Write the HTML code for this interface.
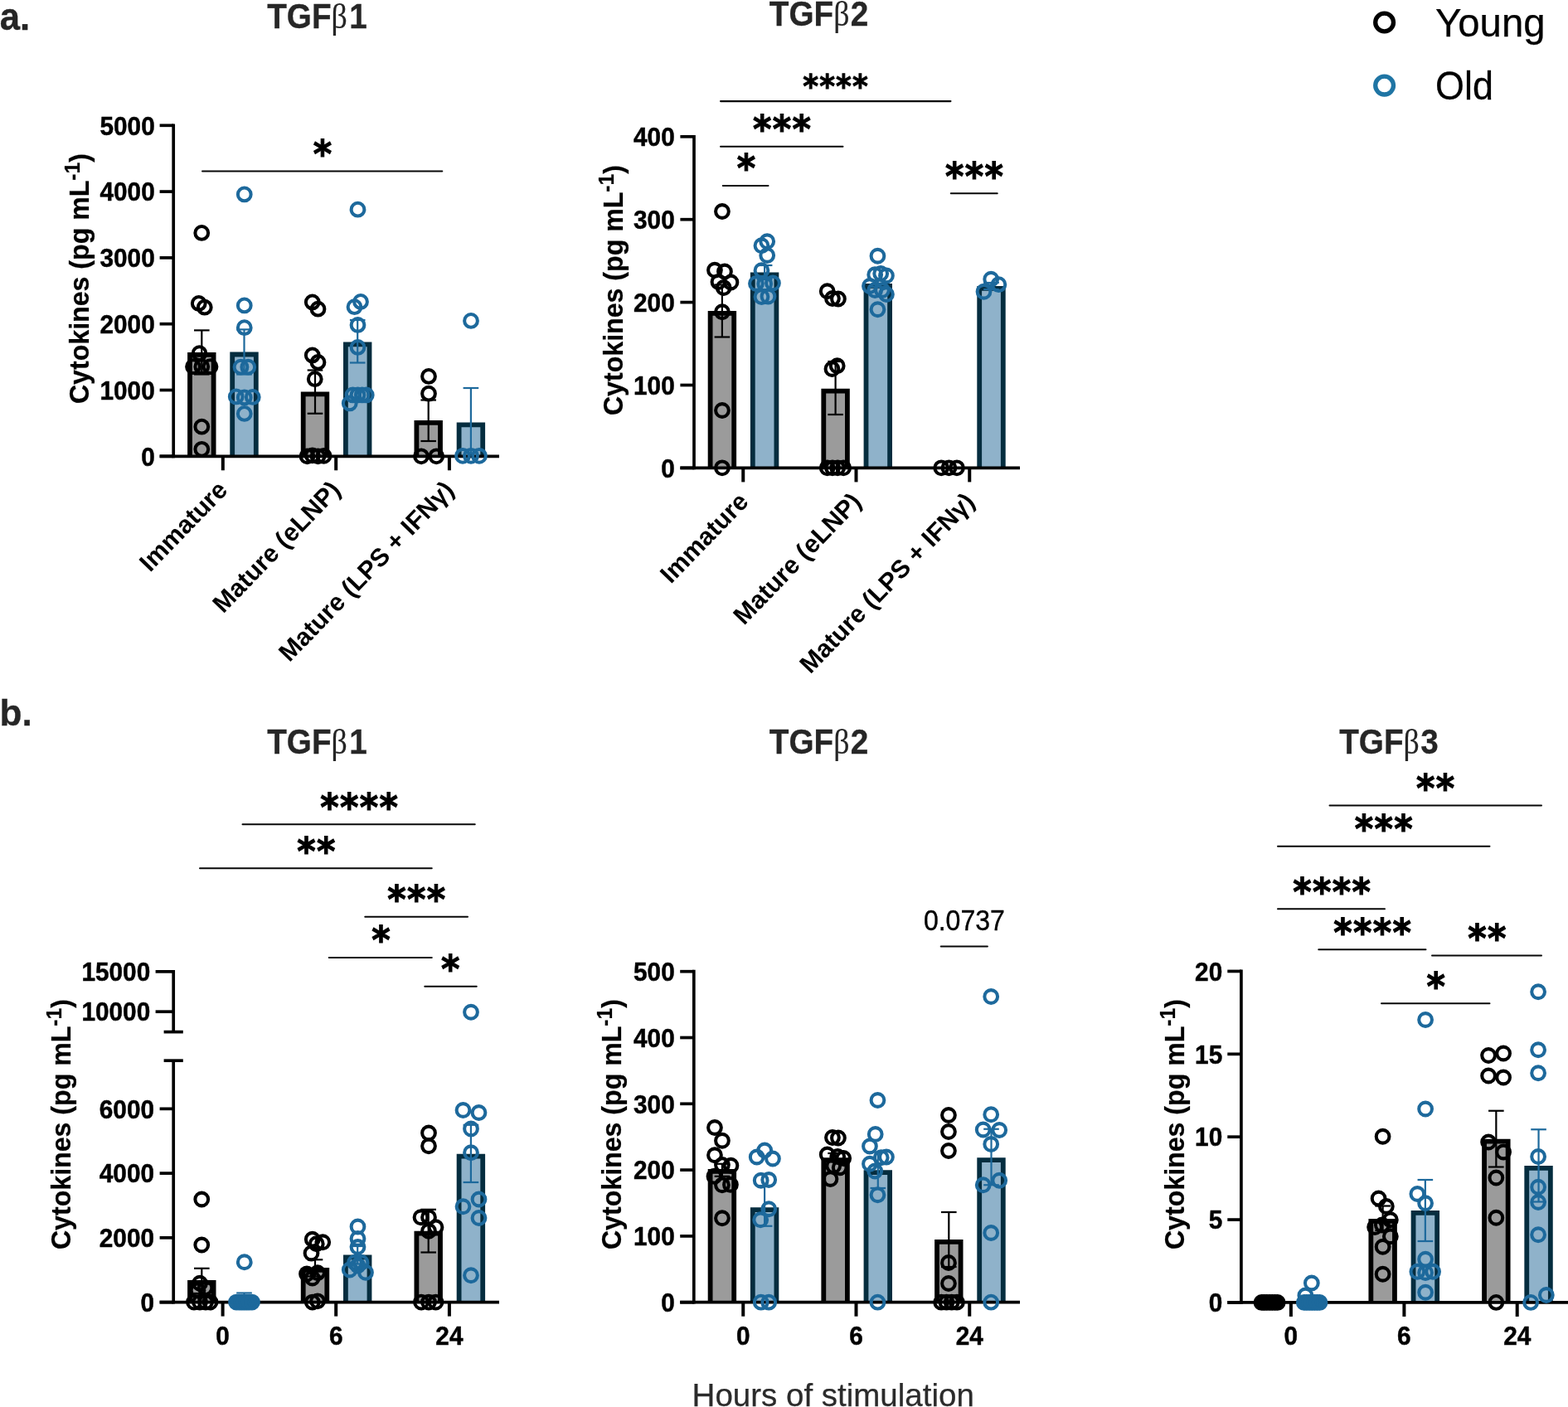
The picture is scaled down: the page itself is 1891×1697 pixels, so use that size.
<!DOCTYPE html>
<html lang="en"><head><meta charset="utf-8"><title>TGF-beta cytokines: Young vs Old</title>
<style>html,body{margin:0;padding:0;background:#fff}body{width:1891px;height:1697px;overflow:hidden}svg{display:block;font-family:"Liberation Sans",Arial,Helvetica,sans-serif;font-kerning:none}</style>
</head><body>
<svg width="1891" height="1697" viewBox="0 0 1891 1697">
<rect width="1891" height="1697" fill="#ffffff"/>
<text transform="translate(-0.30,35.60) scale(0.9480,1)" font-size="46.1" text-anchor="start" font-weight="bold" fill="#262626" stroke="#262626" stroke-width="0.3">a.</text>
<text transform="translate(-0.60,875.30) scale(0.9800,1)" font-size="45.1" text-anchor="start" font-weight="bold" fill="#262626" stroke="#262626" stroke-width="0.3">b.</text>
<circle cx="1669.6" cy="27.0" r="10.9" fill="none" stroke="#000000" stroke-width="5.3"/>
<circle cx="1669.6" cy="103.1" r="10.9" fill="none" stroke="#1f75a4" stroke-width="5.3"/>
<text transform="translate(1731.10,43.80)" font-size="47.3" text-anchor="start" font-weight="normal" fill="#000000" style="font-kerning:normal" stroke="#000000" stroke-width="0.25">Young</text>
<text transform="translate(1731.10,120.30) scale(0.9500,1)" font-size="47.3" text-anchor="start" font-weight="normal" fill="#000000" stroke="#000000" stroke-width="0.25">Old</text>
<g id="a1">
<path d="M229.00 550.30V427.90H257.60V550.30" fill="#9b9b9b" stroke="#000000" stroke-width="5.8" stroke-linejoin="miter"/>
<path d="M280.20 550.30V427.50H308.80V550.30" fill="#8fb2ca" stroke="#052d3f" stroke-width="5.8" stroke-linejoin="miter"/>
<path d="M365.70 550.30V475.40H394.30V550.30" fill="#9b9b9b" stroke="#000000" stroke-width="5.8" stroke-linejoin="miter"/>
<path d="M416.90 550.30V415.40H445.50V550.30" fill="#8fb2ca" stroke="#052d3f" stroke-width="5.8" stroke-linejoin="miter"/>
<path d="M502.40 550.30V509.90H531.00V550.30" fill="#9b9b9b" stroke="#000000" stroke-width="5.8" stroke-linejoin="miter"/>
<path d="M553.60 550.30V512.40H582.20V550.30" fill="#8fb2ca" stroke="#052d3f" stroke-width="5.8" stroke-linejoin="miter"/>
<line x1="243.30" y1="398.40" x2="243.30" y2="451.50" stroke="#000000" stroke-width="2.2" stroke-linecap="butt"/>
<line x1="234.00" y1="398.40" x2="252.60" y2="398.40" stroke="#000000" stroke-width="2.2" stroke-linecap="butt"/>
<line x1="234.00" y1="451.50" x2="252.60" y2="451.50" stroke="#000000" stroke-width="2.2" stroke-linecap="butt"/>
<line x1="294.50" y1="397.40" x2="294.50" y2="451.50" stroke="#1d699c" stroke-width="2.2" stroke-linecap="butt"/>
<line x1="285.20" y1="397.40" x2="303.80" y2="397.40" stroke="#1d699c" stroke-width="2.2" stroke-linecap="butt"/>
<line x1="285.20" y1="451.50" x2="303.80" y2="451.50" stroke="#1d699c" stroke-width="2.2" stroke-linecap="butt"/>
<line x1="380.00" y1="446.50" x2="380.00" y2="498.75" stroke="#000000" stroke-width="2.2" stroke-linecap="butt"/>
<line x1="370.70" y1="446.50" x2="389.30" y2="446.50" stroke="#000000" stroke-width="2.2" stroke-linecap="butt"/>
<line x1="370.70" y1="498.75" x2="389.30" y2="498.75" stroke="#000000" stroke-width="2.2" stroke-linecap="butt"/>
<line x1="431.20" y1="386.00" x2="431.20" y2="437.50" stroke="#1d699c" stroke-width="2.2" stroke-linecap="butt"/>
<line x1="421.90" y1="386.00" x2="440.50" y2="386.00" stroke="#1d699c" stroke-width="2.2" stroke-linecap="butt"/>
<line x1="421.90" y1="437.50" x2="440.50" y2="437.50" stroke="#1d699c" stroke-width="2.2" stroke-linecap="butt"/>
<line x1="516.70" y1="482.50" x2="516.70" y2="532.00" stroke="#000000" stroke-width="2.2" stroke-linecap="butt"/>
<line x1="507.40" y1="482.50" x2="526.00" y2="482.50" stroke="#000000" stroke-width="2.2" stroke-linecap="butt"/>
<line x1="507.40" y1="532.00" x2="526.00" y2="532.00" stroke="#000000" stroke-width="2.2" stroke-linecap="butt"/>
<line x1="567.90" y1="468.00" x2="567.90" y2="551.00" stroke="#1d699c" stroke-width="2.2" stroke-linecap="butt"/>
<line x1="558.60" y1="468.00" x2="577.20" y2="468.00" stroke="#1d699c" stroke-width="2.2" stroke-linecap="butt"/>
<line x1="558.60" y1="551.00" x2="577.20" y2="551.00" stroke="#1d699c" stroke-width="2.2" stroke-linecap="butt"/>
<line x1="209.20" y1="149.45" x2="209.20" y2="552.15" stroke="#000000" stroke-width="3.7" stroke-linecap="butt"/>
<line x1="192.60" y1="550.30" x2="209.20" y2="550.30" stroke="#000000" stroke-width="3.7" stroke-linecap="butt"/>
<text transform="translate(186.70,561.50) scale(0.9280,1)" font-size="32.1" text-anchor="end" font-weight="bold" fill="#000000" stroke="#000000" stroke-width="0.5">0</text>
<line x1="192.60" y1="470.50" x2="209.20" y2="470.50" stroke="#000000" stroke-width="3.7" stroke-linecap="butt"/>
<text transform="translate(186.70,481.70) scale(0.9280,1)" font-size="32.1" text-anchor="end" font-weight="bold" fill="#000000" stroke="#000000" stroke-width="0.5">1000</text>
<line x1="192.60" y1="390.70" x2="209.20" y2="390.70" stroke="#000000" stroke-width="3.7" stroke-linecap="butt"/>
<text transform="translate(186.70,401.90) scale(0.9280,1)" font-size="32.1" text-anchor="end" font-weight="bold" fill="#000000" stroke="#000000" stroke-width="0.5">2000</text>
<line x1="192.60" y1="310.90" x2="209.20" y2="310.90" stroke="#000000" stroke-width="3.7" stroke-linecap="butt"/>
<text transform="translate(186.70,322.10) scale(0.9280,1)" font-size="32.1" text-anchor="end" font-weight="bold" fill="#000000" stroke="#000000" stroke-width="0.5">3000</text>
<line x1="192.60" y1="231.10" x2="209.20" y2="231.10" stroke="#000000" stroke-width="3.7" stroke-linecap="butt"/>
<text transform="translate(186.70,242.30) scale(0.9280,1)" font-size="32.1" text-anchor="end" font-weight="bold" fill="#000000" stroke="#000000" stroke-width="0.5">4000</text>
<line x1="192.60" y1="151.30" x2="209.20" y2="151.30" stroke="#000000" stroke-width="3.7" stroke-linecap="butt"/>
<text transform="translate(186.70,162.50) scale(0.9280,1)" font-size="32.1" text-anchor="end" font-weight="bold" fill="#000000" stroke="#000000" stroke-width="0.5">5000</text>
<line x1="192.60" y1="550.30" x2="602.00" y2="550.30" stroke="#000000" stroke-width="3.7" stroke-linecap="butt"/>
<line x1="268.80" y1="550.30" x2="268.80" y2="567.30" stroke="#000000" stroke-width="4.0" stroke-linecap="butt"/>
<line x1="405.20" y1="550.30" x2="405.20" y2="567.30" stroke="#000000" stroke-width="4.0" stroke-linecap="butt"/>
<line x1="541.90" y1="550.30" x2="541.90" y2="567.30" stroke="#000000" stroke-width="4.0" stroke-linecap="butt"/>
<g fill="none" stroke="#000000" stroke-width="4.05">
<circle cx="243.25" cy="280.95" r="7.87"/>
<circle cx="239.75" cy="365.95" r="7.87"/>
<circle cx="246.75" cy="370.70" r="7.87"/>
<circle cx="240.50" cy="426.20" r="7.87"/>
<circle cx="233.00" cy="442.20" r="7.87"/>
<circle cx="243.25" cy="442.20" r="7.87"/>
<circle cx="253.50" cy="442.20" r="7.87"/>
<circle cx="243.30" cy="514.70" r="7.87"/>
<circle cx="243.30" cy="541.80" r="7.87"/>
</g>
<g fill="none" stroke="#1d699c" stroke-width="4.05">
<circle cx="294.75" cy="234.45" r="7.87"/>
<circle cx="294.75" cy="368.45" r="7.87"/>
<circle cx="294.75" cy="395.20" r="7.87"/>
<circle cx="290.50" cy="442.70" r="7.87"/>
<circle cx="299.25" cy="442.70" r="7.87"/>
<circle cx="284.75" cy="478.45" r="7.87"/>
<circle cx="294.75" cy="479.45" r="7.87"/>
<circle cx="304.75" cy="478.95" r="7.87"/>
<circle cx="294.75" cy="498.95" r="7.87"/>
</g>
<g fill="none" stroke="#000000" stroke-width="4.05">
<circle cx="376.75" cy="364.45" r="7.87"/>
<circle cx="383.50" cy="372.70" r="7.87"/>
<circle cx="376.75" cy="428.45" r="7.87"/>
<circle cx="383.50" cy="436.95" r="7.87"/>
<circle cx="379.75" cy="457.20" r="7.87"/>
<circle cx="370.50" cy="550.30" r="7.87"/>
<circle cx="376.75" cy="549.30" r="7.87"/>
<circle cx="383.50" cy="550.30" r="7.87"/>
<circle cx="390.50" cy="549.80" r="7.87"/>
</g>
<g fill="none" stroke="#1d699c" stroke-width="4.05">
<circle cx="431.50" cy="252.70" r="7.87"/>
<circle cx="435.00" cy="363.95" r="7.87"/>
<circle cx="427.50" cy="370.20" r="7.87"/>
<circle cx="431.50" cy="391.95" r="7.87"/>
<circle cx="431.50" cy="418.95" r="7.87"/>
<circle cx="425.50" cy="476.45" r="7.87"/>
<circle cx="431.50" cy="476.45" r="7.87"/>
<circle cx="436.75" cy="476.45" r="7.87"/>
<circle cx="441.75" cy="476.45" r="7.87"/>
<circle cx="421.75" cy="486.45" r="7.87"/>
</g>
<g fill="none" stroke="#000000" stroke-width="4.05">
<circle cx="517.00" cy="453.95" r="7.87"/>
<circle cx="517.00" cy="474.70" r="7.87"/>
<circle cx="508.00" cy="550.30" r="7.87"/>
<circle cx="526.25" cy="550.30" r="7.87"/>
</g>
<g fill="none" stroke="#1d699c" stroke-width="4.05">
<circle cx="568.00" cy="386.95" r="7.87"/>
<circle cx="558.00" cy="549.80" r="7.87"/>
<circle cx="568.00" cy="549.80" r="7.87"/>
<circle cx="578.00" cy="549.80" r="7.87"/>
</g>
</g>
<text transform="translate(322.20,33.90) scale(0.9025,1)" font-size="42.9" text-anchor="start" font-weight="bold" fill="#262626" stroke="#262626" stroke-width="0.3">TGF<tspan font-family="'Liberation Serif',serif" font-weight="normal" font-size="42" stroke-width="0.15">β</tspan><tspan dx="2.7">1</tspan></text>
<text transform="translate(106.90,336.00) rotate(-90) scale(0.9450,1)" font-size="34" text-anchor="middle" font-weight="bold" fill="#000000" stroke="#000000" stroke-width="0.25">Cytokines (pg mL<tspan font-size="26.2" dy="-10.9">-1</tspan><tspan dy="10.9">)</tspan></text>
<line x1="244.03" y1="206.50" x2="533.27" y2="206.50" stroke="#080808" stroke-width="2.05" stroke-linecap="round"/>
<text transform="translate(389.70,201.90) scale(0.9300,1)" font-size="46.1" text-anchor="middle" font-weight="bold" fill="#000000" font-family="'DejaVu Sans',sans-serif" stroke="#000" stroke-width="1.10" stroke-linejoin="miter" letter-spacing="1.45">*</text>
<text transform="translate(276.00,592.50) rotate(-46)" font-size="30.4" text-anchor="end" font-weight="bold" fill="#000000">Immature</text>
<text transform="translate(412.40,592.50) rotate(-46)" font-size="30.4" text-anchor="end" font-weight="bold" fill="#000000">Mature (eLNP)</text>
<text transform="translate(549.10,592.50) rotate(-46)" font-size="30.4" text-anchor="end" font-weight="bold" fill="#000000">Mature (LPS + IFNγ)</text>
<g id="a2">
<path d="M856.60 564.40V377.90H885.20V564.40" fill="#9b9b9b" stroke="#000000" stroke-width="5.8" stroke-linejoin="miter"/>
<path d="M907.80 564.40V331.40H936.40V564.40" fill="#8fb2ca" stroke="#052d3f" stroke-width="5.8" stroke-linejoin="miter"/>
<path d="M993.30 564.40V471.65H1021.90V564.40" fill="#9b9b9b" stroke="#000000" stroke-width="5.8" stroke-linejoin="miter"/>
<path d="M1044.50 564.40V344.90H1073.10V564.40" fill="#8fb2ca" stroke="#052d3f" stroke-width="5.8" stroke-linejoin="miter"/>
<path d="M1181.20 564.40V347.90H1209.80V564.40" fill="#8fb2ca" stroke="#052d3f" stroke-width="5.8" stroke-linejoin="miter"/>
<line x1="870.90" y1="343.50" x2="870.90" y2="406.50" stroke="#000000" stroke-width="2.2" stroke-linecap="butt"/>
<line x1="861.60" y1="343.50" x2="880.20" y2="343.50" stroke="#000000" stroke-width="2.2" stroke-linecap="butt"/>
<line x1="861.60" y1="406.50" x2="880.20" y2="406.50" stroke="#000000" stroke-width="2.2" stroke-linecap="butt"/>
<line x1="922.10" y1="320.00" x2="922.10" y2="337.00" stroke="#1d699c" stroke-width="2.2" stroke-linecap="butt"/>
<line x1="912.80" y1="320.00" x2="931.40" y2="320.00" stroke="#1d699c" stroke-width="2.2" stroke-linecap="butt"/>
<line x1="912.80" y1="337.00" x2="931.40" y2="337.00" stroke="#1d699c" stroke-width="2.2" stroke-linecap="butt"/>
<line x1="1007.60" y1="436.00" x2="1007.60" y2="500.00" stroke="#000000" stroke-width="2.2" stroke-linecap="butt"/>
<line x1="998.30" y1="436.00" x2="1016.90" y2="436.00" stroke="#000000" stroke-width="2.2" stroke-linecap="butt"/>
<line x1="998.30" y1="500.00" x2="1016.90" y2="500.00" stroke="#000000" stroke-width="2.2" stroke-linecap="butt"/>
<line x1="1058.80" y1="338.00" x2="1058.80" y2="346.00" stroke="#1d699c" stroke-width="2.2" stroke-linecap="butt"/>
<line x1="1049.50" y1="338.00" x2="1068.10" y2="338.00" stroke="#1d699c" stroke-width="2.2" stroke-linecap="butt"/>
<line x1="1049.50" y1="346.00" x2="1068.10" y2="346.00" stroke="#1d699c" stroke-width="2.2" stroke-linecap="butt"/>
<line x1="1195.50" y1="341.00" x2="1195.50" y2="349.00" stroke="#1d699c" stroke-width="2.2" stroke-linecap="butt"/>
<line x1="1186.20" y1="341.00" x2="1204.80" y2="341.00" stroke="#1d699c" stroke-width="2.2" stroke-linecap="butt"/>
<line x1="1186.20" y1="349.00" x2="1204.80" y2="349.00" stroke="#1d699c" stroke-width="2.2" stroke-linecap="butt"/>
<line x1="837.00" y1="162.95" x2="837.00" y2="566.25" stroke="#000000" stroke-width="3.7" stroke-linecap="butt"/>
<line x1="820.40" y1="564.40" x2="837.00" y2="564.40" stroke="#000000" stroke-width="3.7" stroke-linecap="butt"/>
<text transform="translate(813.70,575.60) scale(0.9280,1)" font-size="32.1" text-anchor="end" font-weight="bold" fill="#000000" stroke="#000000" stroke-width="0.5">0</text>
<line x1="820.40" y1="464.50" x2="837.00" y2="464.50" stroke="#000000" stroke-width="3.7" stroke-linecap="butt"/>
<text transform="translate(813.70,475.70) scale(0.9280,1)" font-size="32.1" text-anchor="end" font-weight="bold" fill="#000000" stroke="#000000" stroke-width="0.5">100</text>
<line x1="820.40" y1="364.60" x2="837.00" y2="364.60" stroke="#000000" stroke-width="3.7" stroke-linecap="butt"/>
<text transform="translate(813.70,375.80) scale(0.9280,1)" font-size="32.1" text-anchor="end" font-weight="bold" fill="#000000" stroke="#000000" stroke-width="0.5">200</text>
<line x1="820.40" y1="264.70" x2="837.00" y2="264.70" stroke="#000000" stroke-width="3.7" stroke-linecap="butt"/>
<text transform="translate(813.70,275.90) scale(0.9280,1)" font-size="32.1" text-anchor="end" font-weight="bold" fill="#000000" stroke="#000000" stroke-width="0.5">300</text>
<line x1="820.40" y1="164.80" x2="837.00" y2="164.80" stroke="#000000" stroke-width="3.7" stroke-linecap="butt"/>
<text transform="translate(813.70,176.00) scale(0.9280,1)" font-size="32.1" text-anchor="end" font-weight="bold" fill="#000000" stroke="#000000" stroke-width="0.5">400</text>
<line x1="820.40" y1="564.40" x2="1230.00" y2="564.40" stroke="#000000" stroke-width="3.7" stroke-linecap="butt"/>
<line x1="896.25" y1="564.40" x2="896.25" y2="581.40" stroke="#000000" stroke-width="4.0" stroke-linecap="butt"/>
<line x1="1032.50" y1="564.40" x2="1032.50" y2="581.40" stroke="#000000" stroke-width="4.0" stroke-linecap="butt"/>
<line x1="1169.25" y1="564.40" x2="1169.25" y2="581.40" stroke="#000000" stroke-width="4.0" stroke-linecap="butt"/>
<g fill="none" stroke="#000000" stroke-width="4.05">
<circle cx="870.95" cy="255.00" r="7.87"/>
<circle cx="861.95" cy="325.75" r="7.87"/>
<circle cx="873.95" cy="327.50" r="7.87"/>
<circle cx="866.45" cy="340.00" r="7.87"/>
<circle cx="881.45" cy="340.50" r="7.87"/>
<circle cx="872.70" cy="347.00" r="7.87"/>
<circle cx="870.95" cy="376.25" r="7.87"/>
<circle cx="870.95" cy="495.00" r="7.87"/>
<circle cx="870.95" cy="564.30" r="7.87"/>
</g>
<g fill="none" stroke="#1d699c" stroke-width="4.05">
<circle cx="925.20" cy="291.25" r="7.87"/>
<circle cx="918.45" cy="296.25" r="7.87"/>
<circle cx="925.20" cy="308.00" r="7.87"/>
<circle cx="918.45" cy="326.25" r="7.87"/>
<circle cx="911.95" cy="342.00" r="7.87"/>
<circle cx="931.95" cy="341.50" r="7.87"/>
<circle cx="922.20" cy="342.50" r="7.87"/>
<circle cx="918.45" cy="358.00" r="7.87"/>
<circle cx="926.45" cy="357.50" r="7.87"/>
</g>
<g fill="none" stroke="#000000" stroke-width="4.05">
<circle cx="997.70" cy="351.25" r="7.87"/>
<circle cx="1003.95" cy="360.00" r="7.87"/>
<circle cx="1010.95" cy="360.50" r="7.87"/>
<circle cx="1009.70" cy="441.25" r="7.87"/>
<circle cx="1003.45" cy="445.00" r="7.87"/>
<circle cx="997.70" cy="564.30" r="7.87"/>
<circle cx="1003.95" cy="564.30" r="7.87"/>
<circle cx="1010.20" cy="564.30" r="7.87"/>
<circle cx="1017.20" cy="564.30" r="7.87"/>
</g>
<g fill="none" stroke="#1d699c" stroke-width="4.05">
<circle cx="1058.45" cy="308.75" r="7.87"/>
<circle cx="1055.20" cy="331.25" r="7.87"/>
<circle cx="1062.20" cy="330.00" r="7.87"/>
<circle cx="1068.95" cy="332.50" r="7.87"/>
<circle cx="1048.95" cy="345.00" r="7.87"/>
<circle cx="1055.20" cy="350.00" r="7.87"/>
<circle cx="1063.95" cy="350.00" r="7.87"/>
<circle cx="1068.95" cy="355.00" r="7.87"/>
<circle cx="1058.45" cy="373.25" r="7.87"/>
</g>
<g fill="none" stroke="#000000" stroke-width="4.05">
<circle cx="1135.20" cy="564.30" r="7.87"/>
<circle cx="1144.45" cy="564.30" r="7.87"/>
<circle cx="1153.95" cy="564.30" r="7.87"/>
</g>
<g fill="none" stroke="#1d699c" stroke-width="4.05">
<circle cx="1195.20" cy="336.75" r="7.87"/>
<circle cx="1204.40" cy="343.20" r="7.87"/>
<circle cx="1186.50" cy="351.75" r="7.87"/>
</g>
</g>
<text transform="translate(927.80,31.40) scale(0.9025,1)" font-size="42.9" text-anchor="start" font-weight="bold" fill="#262626" stroke="#262626" stroke-width="0.3">TGF<tspan font-family="'Liberation Serif',serif" font-weight="normal" font-size="42" stroke-width="0.15">β</tspan><tspan dx="1.5">2</tspan></text>
<text transform="translate(750.50,350.00) rotate(-90) scale(0.9450,1)" font-size="34" text-anchor="middle" font-weight="bold" fill="#000000" stroke="#000000" stroke-width="0.25">Cytokines (pg mL<tspan font-size="26.2" dy="-10.9">-1</tspan><tspan dy="10.9">)</tspan></text>
<line x1="869.02" y1="122.10" x2="1146.47" y2="122.10" stroke="#080808" stroke-width="2.05" stroke-linecap="round"/>
<text transform="translate(1008.09,118.19) scale(0.9300,1)" font-size="38.7" text-anchor="middle" font-weight="bold" fill="#000000" font-family="'DejaVu Sans',sans-serif" stroke="#000" stroke-width="0.92" stroke-linejoin="miter" letter-spacing="1.22">****</text>
<line x1="869.02" y1="176.80" x2="1016.48" y2="176.80" stroke="#080808" stroke-width="2.05" stroke-linecap="round"/>
<text transform="translate(943.70,172.20) scale(0.9300,1)" font-size="46.1" text-anchor="middle" font-weight="bold" fill="#000000" font-family="'DejaVu Sans',sans-serif" stroke="#000" stroke-width="1.10" stroke-linejoin="miter" letter-spacing="1.45">***</text>
<line x1="871.77" y1="224.05" x2="926.48" y2="224.05" stroke="#080808" stroke-width="2.05" stroke-linecap="round"/>
<text transform="translate(900.70,218.90) scale(0.9300,1)" font-size="46.1" text-anchor="middle" font-weight="bold" fill="#000000" font-family="'DejaVu Sans',sans-serif" stroke="#000" stroke-width="1.10" stroke-linejoin="miter" letter-spacing="1.45">*</text>
<line x1="1146.78" y1="233.30" x2="1202.72" y2="233.30" stroke="#080808" stroke-width="2.05" stroke-linecap="round"/>
<text transform="translate(1175.70,228.70) scale(0.9300,1)" font-size="46.1" text-anchor="middle" font-weight="bold" fill="#000000" font-family="'DejaVu Sans',sans-serif" stroke="#000" stroke-width="1.10" stroke-linejoin="miter" letter-spacing="1.45">***</text>
<text transform="translate(904.15,606.70) rotate(-46)" font-size="30.4" text-anchor="end" font-weight="bold" fill="#000000">Immature</text>
<text transform="translate(1040.40,606.70) rotate(-46)" font-size="30.4" text-anchor="end" font-weight="bold" fill="#000000">Mature (eLNP)</text>
<text transform="translate(1177.15,606.70) rotate(-46)" font-size="30.4" text-anchor="end" font-weight="bold" fill="#000000">Mature (LPS + IFNγ)</text>
<g id="b1">
<path d="M229.00 1570.60V1546.90H257.60V1570.60" fill="#9b9b9b" stroke="#000000" stroke-width="5.8" stroke-linejoin="miter"/>
<path d="M365.70 1570.60V1531.90H394.30V1570.60" fill="#9b9b9b" stroke="#000000" stroke-width="5.8" stroke-linejoin="miter"/>
<path d="M416.90 1570.60V1516.40H445.50V1570.60" fill="#8fb2ca" stroke="#052d3f" stroke-width="5.8" stroke-linejoin="miter"/>
<path d="M502.40 1570.60V1487.70H531.00V1570.60" fill="#9b9b9b" stroke="#000000" stroke-width="5.8" stroke-linejoin="miter"/>
<path d="M553.60 1570.60V1394.70H582.20V1570.60" fill="#8fb2ca" stroke="#052d3f" stroke-width="5.8" stroke-linejoin="miter"/>
<line x1="243.30" y1="1529.80" x2="243.30" y2="1560.00" stroke="#000000" stroke-width="2.2" stroke-linecap="butt"/>
<line x1="234.00" y1="1529.80" x2="252.60" y2="1529.80" stroke="#000000" stroke-width="2.2" stroke-linecap="butt"/>
<line x1="234.00" y1="1560.00" x2="252.60" y2="1560.00" stroke="#000000" stroke-width="2.2" stroke-linecap="butt"/>
<line x1="294.50" y1="1559.50" x2="294.50" y2="1570.50" stroke="#1d699c" stroke-width="2.2" stroke-linecap="butt"/>
<line x1="285.20" y1="1559.50" x2="303.80" y2="1559.50" stroke="#1d699c" stroke-width="2.2" stroke-linecap="butt"/>
<line x1="285.20" y1="1570.50" x2="303.80" y2="1570.50" stroke="#1d699c" stroke-width="2.2" stroke-linecap="butt"/>
<line x1="380.00" y1="1519.30" x2="380.00" y2="1539.50" stroke="#000000" stroke-width="2.2" stroke-linecap="butt"/>
<line x1="370.70" y1="1519.30" x2="389.30" y2="1519.30" stroke="#000000" stroke-width="2.2" stroke-linecap="butt"/>
<line x1="370.70" y1="1539.50" x2="389.30" y2="1539.50" stroke="#000000" stroke-width="2.2" stroke-linecap="butt"/>
<line x1="431.20" y1="1503.00" x2="431.20" y2="1524.50" stroke="#1d699c" stroke-width="2.2" stroke-linecap="butt"/>
<line x1="421.90" y1="1503.00" x2="440.50" y2="1503.00" stroke="#1d699c" stroke-width="2.2" stroke-linecap="butt"/>
<line x1="421.90" y1="1524.50" x2="440.50" y2="1524.50" stroke="#1d699c" stroke-width="2.2" stroke-linecap="butt"/>
<line x1="516.70" y1="1458.80" x2="516.70" y2="1510.50" stroke="#000000" stroke-width="2.2" stroke-linecap="butt"/>
<line x1="507.40" y1="1458.80" x2="526.00" y2="1458.80" stroke="#000000" stroke-width="2.2" stroke-linecap="butt"/>
<line x1="507.40" y1="1510.50" x2="526.00" y2="1510.50" stroke="#000000" stroke-width="2.2" stroke-linecap="butt"/>
<line x1="567.90" y1="1356.80" x2="567.90" y2="1426.00" stroke="#1d699c" stroke-width="2.2" stroke-linecap="butt"/>
<line x1="558.60" y1="1356.80" x2="577.20" y2="1356.80" stroke="#1d699c" stroke-width="2.2" stroke-linecap="butt"/>
<line x1="558.60" y1="1426.00" x2="577.20" y2="1426.00" stroke="#1d699c" stroke-width="2.2" stroke-linecap="butt"/>
<line x1="209.20" y1="1170.00" x2="209.20" y2="1244.45" stroke="#000000" stroke-width="3.7" stroke-linecap="butt"/>
<line x1="187.60" y1="1220.20" x2="209.20" y2="1220.20" stroke="#000000" stroke-width="3.7" stroke-linecap="butt"/>
<text transform="translate(181.20,1231.40) scale(0.9280,1)" font-size="32.1" text-anchor="end" font-weight="bold" fill="#000000" stroke="#000000" stroke-width="0.5">10000</text>
<line x1="187.60" y1="1171.85" x2="209.20" y2="1171.85" stroke="#000000" stroke-width="3.7" stroke-linecap="butt"/>
<text transform="translate(181.20,1183.05) scale(0.9280,1)" font-size="32.1" text-anchor="end" font-weight="bold" fill="#000000" stroke="#000000" stroke-width="0.5">15000</text>
<line x1="209.20" y1="1279.25" x2="209.20" y2="1572.45" stroke="#000000" stroke-width="3.7" stroke-linecap="butt"/>
<line x1="192.60" y1="1570.60" x2="209.20" y2="1570.60" stroke="#000000" stroke-width="3.7" stroke-linecap="butt"/>
<text transform="translate(186.00,1581.80) scale(0.9280,1)" font-size="32.1" text-anchor="end" font-weight="bold" fill="#000000" stroke="#000000" stroke-width="0.5">0</text>
<line x1="192.60" y1="1492.85" x2="209.20" y2="1492.85" stroke="#000000" stroke-width="3.7" stroke-linecap="butt"/>
<text transform="translate(186.00,1504.05) scale(0.9280,1)" font-size="32.1" text-anchor="end" font-weight="bold" fill="#000000" stroke="#000000" stroke-width="0.5">2000</text>
<line x1="192.60" y1="1415.10" x2="209.20" y2="1415.10" stroke="#000000" stroke-width="3.7" stroke-linecap="butt"/>
<text transform="translate(186.00,1426.30) scale(0.9280,1)" font-size="32.1" text-anchor="end" font-weight="bold" fill="#000000" stroke="#000000" stroke-width="0.5">4000</text>
<line x1="192.60" y1="1337.35" x2="209.20" y2="1337.35" stroke="#000000" stroke-width="3.7" stroke-linecap="butt"/>
<text transform="translate(186.00,1348.55) scale(0.9280,1)" font-size="32.1" text-anchor="end" font-weight="bold" fill="#000000" stroke="#000000" stroke-width="0.5">6000</text>
<line x1="197.60" y1="1244.60" x2="220.80" y2="1244.60" stroke="#000000" stroke-width="3.7" stroke-linecap="butt"/>
<line x1="197.60" y1="1279.20" x2="220.80" y2="1279.20" stroke="#000000" stroke-width="3.7" stroke-linecap="butt"/>
<line x1="192.60" y1="1570.60" x2="602.00" y2="1570.60" stroke="#000000" stroke-width="3.7" stroke-linecap="butt"/>
<line x1="268.60" y1="1570.60" x2="268.60" y2="1587.60" stroke="#000000" stroke-width="4.0" stroke-linecap="butt"/>
<line x1="405.20" y1="1570.60" x2="405.20" y2="1587.60" stroke="#000000" stroke-width="4.0" stroke-linecap="butt"/>
<line x1="541.90" y1="1570.60" x2="541.90" y2="1587.60" stroke="#000000" stroke-width="4.0" stroke-linecap="butt"/>
<g fill="none" stroke="#000000" stroke-width="4.05">
<circle cx="243.25" cy="1446.50" r="7.87"/>
<circle cx="243.25" cy="1501.50" r="7.87"/>
<circle cx="241.00" cy="1547.75" r="7.87"/>
<circle cx="247.50" cy="1553.25" r="7.87"/>
<circle cx="238.50" cy="1556.25" r="7.87"/>
<circle cx="234.00" cy="1570.60" r="7.87"/>
<circle cx="241.00" cy="1570.60" r="7.87"/>
<circle cx="248.00" cy="1570.60" r="7.87"/>
<circle cx="253.50" cy="1570.60" r="7.87"/>
</g>
<g fill="none" stroke="#1d699c" stroke-width="4.05">
<circle cx="294.75" cy="1522.25" r="7.87"/>
<circle cx="285.00" cy="1570.60" r="7.87"/>
<circle cx="288.50" cy="1570.60" r="7.87"/>
<circle cx="291.50" cy="1570.60" r="7.87"/>
<circle cx="294.50" cy="1570.60" r="7.87"/>
<circle cx="297.50" cy="1570.60" r="7.87"/>
<circle cx="300.50" cy="1570.60" r="7.87"/>
<circle cx="304.00" cy="1570.60" r="7.87"/>
</g>
<g fill="none" stroke="#000000" stroke-width="4.05">
<circle cx="376.75" cy="1494.75" r="7.87"/>
<circle cx="389.25" cy="1498.25" r="7.87"/>
<circle cx="381.75" cy="1500.25" r="7.87"/>
<circle cx="375.50" cy="1511.50" r="7.87"/>
<circle cx="370.00" cy="1536.50" r="7.87"/>
<circle cx="383.00" cy="1535.25" r="7.87"/>
<circle cx="376.75" cy="1541.50" r="7.87"/>
<circle cx="376.75" cy="1570.60" r="7.87"/>
<circle cx="383.00" cy="1569.35" r="7.87"/>
</g>
<g fill="none" stroke="#1d699c" stroke-width="4.05">
<circle cx="431.50" cy="1479.50" r="7.87"/>
<circle cx="431.50" cy="1494.00" r="7.87"/>
<circle cx="431.50" cy="1504.00" r="7.87"/>
<circle cx="428.00" cy="1522.75" r="7.87"/>
<circle cx="435.50" cy="1522.75" r="7.87"/>
<circle cx="421.75" cy="1531.50" r="7.87"/>
<circle cx="441.00" cy="1534.75" r="7.87"/>
<circle cx="431.50" cy="1526.50" r="7.87"/>
</g>
<g fill="none" stroke="#000000" stroke-width="4.05">
<circle cx="517.00" cy="1366.50" r="7.87"/>
<circle cx="517.00" cy="1382.25" r="7.87"/>
<circle cx="507.50" cy="1468.25" r="7.87"/>
<circle cx="517.00" cy="1468.25" r="7.87"/>
<circle cx="525.50" cy="1480.25" r="7.87"/>
<circle cx="517.00" cy="1484.75" r="7.87"/>
<circle cx="508.00" cy="1570.60" r="7.87"/>
<circle cx="517.00" cy="1570.60" r="7.87"/>
<circle cx="525.50" cy="1570.60" r="7.87"/>
</g>
<g fill="none" stroke="#1d699c" stroke-width="4.05">
<circle cx="568.00" cy="1220.75" r="7.87"/>
<circle cx="558.50" cy="1339.00" r="7.87"/>
<circle cx="577.50" cy="1342.00" r="7.87"/>
<circle cx="568.00" cy="1361.50" r="7.87"/>
<circle cx="568.00" cy="1390.25" r="7.87"/>
<circle cx="577.50" cy="1446.50" r="7.87"/>
<circle cx="558.50" cy="1455.25" r="7.87"/>
<circle cx="577.50" cy="1469.00" r="7.87"/>
<circle cx="568.00" cy="1538.25" r="7.87"/>
</g>
</g>
<text transform="translate(322.20,909.30) scale(0.9025,1)" font-size="42.9" text-anchor="start" font-weight="bold" fill="#262626" stroke="#262626" stroke-width="0.3">TGF<tspan font-family="'Liberation Serif',serif" font-weight="normal" font-size="42" stroke-width="0.15">β</tspan><tspan dx="2.7">1</tspan></text>
<text transform="translate(85.00,1356.00) rotate(-90) scale(0.9450,1)" font-size="34" text-anchor="middle" font-weight="bold" fill="#000000" stroke="#000000" stroke-width="0.25">Cytokines (pg mL<tspan font-size="26.2" dy="-10.9">-1</tspan><tspan dy="10.9">)</tspan></text>
<line x1="292.52" y1="994.30" x2="572.73" y2="994.30" stroke="#080808" stroke-width="2.05" stroke-linecap="round"/>
<text transform="translate(433.70,989.70) scale(0.9300,1)" font-size="46.1" text-anchor="middle" font-weight="bold" fill="#000000" font-family="'DejaVu Sans',sans-serif" stroke="#000" stroke-width="1.10" stroke-linejoin="miter" letter-spacing="1.45">****</text>
<line x1="241.03" y1="1047.30" x2="520.73" y2="1047.30" stroke="#080808" stroke-width="2.05" stroke-linecap="round"/>
<text transform="translate(381.95,1042.70) scale(0.9300,1)" font-size="46.1" text-anchor="middle" font-weight="bold" fill="#000000" font-family="'DejaVu Sans',sans-serif" stroke="#000" stroke-width="1.10" stroke-linejoin="miter" letter-spacing="1.45">**</text>
<line x1="440.27" y1="1105.80" x2="563.98" y2="1105.80" stroke="#080808" stroke-width="2.05" stroke-linecap="round"/>
<text transform="translate(502.95,1101.20) scale(0.9300,1)" font-size="46.1" text-anchor="middle" font-weight="bold" fill="#000000" font-family="'DejaVu Sans',sans-serif" stroke="#000" stroke-width="1.10" stroke-linejoin="miter" letter-spacing="1.45">***</text>
<line x1="396.77" y1="1155.05" x2="520.73" y2="1155.05" stroke="#080808" stroke-width="2.05" stroke-linecap="round"/>
<text transform="translate(460.10,1150.45) scale(0.9300,1)" font-size="46.1" text-anchor="middle" font-weight="bold" fill="#000000" font-family="'DejaVu Sans',sans-serif" stroke="#000" stroke-width="1.10" stroke-linejoin="miter" letter-spacing="1.45">*</text>
<line x1="512.27" y1="1189.70" x2="574.73" y2="1189.70" stroke="#080808" stroke-width="2.05" stroke-linecap="round"/>
<text transform="translate(543.95,1185.10) scale(0.9300,1)" font-size="46.1" text-anchor="middle" font-weight="bold" fill="#000000" font-family="'DejaVu Sans',sans-serif" stroke="#000" stroke-width="1.10" stroke-linejoin="miter" letter-spacing="1.45">*</text>
<text transform="translate(268.60,1621.80) scale(0.9280,1)" font-size="32.1" text-anchor="middle" font-weight="bold" fill="#000000" stroke="#000000" stroke-width="0.5">0</text>
<text transform="translate(405.20,1621.80) scale(0.9280,1)" font-size="32.1" text-anchor="middle" font-weight="bold" fill="#000000" stroke="#000000" stroke-width="0.5">6</text>
<text transform="translate(541.90,1621.80) scale(0.9280,1)" font-size="32.1" text-anchor="middle" font-weight="bold" fill="#000000" stroke="#000000" stroke-width="0.5">24</text>
<g id="b2">
<path d="M856.60 1570.70V1412.90H885.20V1570.70" fill="#9b9b9b" stroke="#000000" stroke-width="5.8" stroke-linejoin="miter"/>
<path d="M907.80 1570.70V1459.15H936.40V1570.70" fill="#8fb2ca" stroke="#052d3f" stroke-width="5.8" stroke-linejoin="miter"/>
<path d="M993.30 1570.70V1399.15H1021.90V1570.70" fill="#9b9b9b" stroke="#000000" stroke-width="5.8" stroke-linejoin="miter"/>
<path d="M1044.50 1570.70V1414.15H1073.10V1570.70" fill="#8fb2ca" stroke="#052d3f" stroke-width="5.8" stroke-linejoin="miter"/>
<path d="M1130.00 1570.70V1497.90H1158.60V1570.70" fill="#9b9b9b" stroke="#000000" stroke-width="5.8" stroke-linejoin="miter"/>
<path d="M1181.20 1570.70V1399.15H1209.80V1570.70" fill="#8fb2ca" stroke="#052d3f" stroke-width="5.8" stroke-linejoin="miter"/>
<line x1="870.90" y1="1403.75" x2="870.90" y2="1418.75" stroke="#000000" stroke-width="2.2" stroke-linecap="butt"/>
<line x1="861.60" y1="1403.75" x2="880.20" y2="1403.75" stroke="#000000" stroke-width="2.2" stroke-linecap="butt"/>
<line x1="861.60" y1="1418.75" x2="880.20" y2="1418.75" stroke="#000000" stroke-width="2.2" stroke-linecap="butt"/>
<line x1="922.10" y1="1430.00" x2="922.10" y2="1478.75" stroke="#1d699c" stroke-width="2.2" stroke-linecap="butt"/>
<line x1="912.80" y1="1430.00" x2="931.40" y2="1430.00" stroke="#1d699c" stroke-width="2.2" stroke-linecap="butt"/>
<line x1="912.80" y1="1478.75" x2="931.40" y2="1478.75" stroke="#1d699c" stroke-width="2.2" stroke-linecap="butt"/>
<line x1="1007.60" y1="1391.00" x2="1007.60" y2="1401.50" stroke="#000000" stroke-width="2.2" stroke-linecap="butt"/>
<line x1="998.30" y1="1391.00" x2="1016.90" y2="1391.00" stroke="#000000" stroke-width="2.2" stroke-linecap="butt"/>
<line x1="998.30" y1="1401.50" x2="1016.90" y2="1401.50" stroke="#000000" stroke-width="2.2" stroke-linecap="butt"/>
<line x1="1058.80" y1="1389.50" x2="1058.80" y2="1433.00" stroke="#1d699c" stroke-width="2.2" stroke-linecap="butt"/>
<line x1="1049.50" y1="1389.50" x2="1068.10" y2="1389.50" stroke="#1d699c" stroke-width="2.2" stroke-linecap="butt"/>
<line x1="1049.50" y1="1433.00" x2="1068.10" y2="1433.00" stroke="#1d699c" stroke-width="2.2" stroke-linecap="butt"/>
<line x1="1144.30" y1="1462.00" x2="1144.30" y2="1528.00" stroke="#000000" stroke-width="2.2" stroke-linecap="butt"/>
<line x1="1135.00" y1="1462.00" x2="1153.60" y2="1462.00" stroke="#000000" stroke-width="2.2" stroke-linecap="butt"/>
<line x1="1135.00" y1="1528.00" x2="1153.60" y2="1528.00" stroke="#000000" stroke-width="2.2" stroke-linecap="butt"/>
<line x1="1195.50" y1="1361.75" x2="1195.50" y2="1429.25" stroke="#1d699c" stroke-width="2.2" stroke-linecap="butt"/>
<line x1="1186.20" y1="1361.75" x2="1204.80" y2="1361.75" stroke="#1d699c" stroke-width="2.2" stroke-linecap="butt"/>
<line x1="1186.20" y1="1429.25" x2="1204.80" y2="1429.25" stroke="#1d699c" stroke-width="2.2" stroke-linecap="butt"/>
<line x1="836.80" y1="1169.85" x2="836.80" y2="1572.55" stroke="#000000" stroke-width="3.7" stroke-linecap="butt"/>
<line x1="820.20" y1="1570.70" x2="836.80" y2="1570.70" stroke="#000000" stroke-width="3.7" stroke-linecap="butt"/>
<text transform="translate(813.70,1581.90) scale(0.9280,1)" font-size="32.1" text-anchor="end" font-weight="bold" fill="#000000" stroke="#000000" stroke-width="0.5">0</text>
<line x1="820.20" y1="1490.90" x2="836.80" y2="1490.90" stroke="#000000" stroke-width="3.7" stroke-linecap="butt"/>
<text transform="translate(813.70,1502.10) scale(0.9280,1)" font-size="32.1" text-anchor="end" font-weight="bold" fill="#000000" stroke="#000000" stroke-width="0.5">100</text>
<line x1="820.20" y1="1411.10" x2="836.80" y2="1411.10" stroke="#000000" stroke-width="3.7" stroke-linecap="butt"/>
<text transform="translate(813.70,1422.30) scale(0.9280,1)" font-size="32.1" text-anchor="end" font-weight="bold" fill="#000000" stroke="#000000" stroke-width="0.5">200</text>
<line x1="820.20" y1="1331.30" x2="836.80" y2="1331.30" stroke="#000000" stroke-width="3.7" stroke-linecap="butt"/>
<text transform="translate(813.70,1342.50) scale(0.9280,1)" font-size="32.1" text-anchor="end" font-weight="bold" fill="#000000" stroke="#000000" stroke-width="0.5">300</text>
<line x1="820.20" y1="1251.50" x2="836.80" y2="1251.50" stroke="#000000" stroke-width="3.7" stroke-linecap="butt"/>
<text transform="translate(813.70,1262.70) scale(0.9280,1)" font-size="32.1" text-anchor="end" font-weight="bold" fill="#000000" stroke="#000000" stroke-width="0.5">400</text>
<line x1="820.20" y1="1171.70" x2="836.80" y2="1171.70" stroke="#000000" stroke-width="3.7" stroke-linecap="butt"/>
<text transform="translate(813.70,1182.90) scale(0.9280,1)" font-size="32.1" text-anchor="end" font-weight="bold" fill="#000000" stroke="#000000" stroke-width="0.5">500</text>
<line x1="820.20" y1="1570.70" x2="1230.00" y2="1570.70" stroke="#000000" stroke-width="3.7" stroke-linecap="butt"/>
<line x1="896.25" y1="1570.70" x2="896.25" y2="1587.70" stroke="#000000" stroke-width="4.0" stroke-linecap="butt"/>
<line x1="1032.50" y1="1570.70" x2="1032.50" y2="1587.70" stroke="#000000" stroke-width="4.0" stroke-linecap="butt"/>
<line x1="1169.25" y1="1570.70" x2="1169.25" y2="1587.70" stroke="#000000" stroke-width="4.0" stroke-linecap="butt"/>
<g fill="none" stroke="#000000" stroke-width="4.05">
<circle cx="861.95" cy="1360.00" r="7.87"/>
<circle cx="870.95" cy="1375.75" r="7.87"/>
<circle cx="861.95" cy="1393.25" r="7.87"/>
<circle cx="870.95" cy="1405.00" r="7.87"/>
<circle cx="881.45" cy="1405.75" r="7.87"/>
<circle cx="861.45" cy="1418.75" r="7.87"/>
<circle cx="870.95" cy="1429.25" r="7.87"/>
<circle cx="880.95" cy="1428.75" r="7.87"/>
<circle cx="870.95" cy="1469.25" r="7.87"/>
</g>
<g fill="none" stroke="#1d699c" stroke-width="4.05">
<circle cx="922.20" cy="1387.50" r="7.87"/>
<circle cx="912.70" cy="1395.50" r="7.87"/>
<circle cx="931.95" cy="1397.50" r="7.87"/>
<circle cx="917.70" cy="1423.75" r="7.87"/>
<circle cx="927.20" cy="1423.00" r="7.87"/>
<circle cx="927.20" cy="1458.25" r="7.87"/>
<circle cx="917.20" cy="1471.25" r="7.87"/>
<circle cx="917.70" cy="1570.70" r="7.87"/>
<circle cx="927.20" cy="1570.70" r="7.87"/>
</g>
<g fill="none" stroke="#000000" stroke-width="4.05">
<circle cx="1003.95" cy="1372.00" r="7.87"/>
<circle cx="1010.95" cy="1372.50" r="7.87"/>
<circle cx="997.70" cy="1392.50" r="7.87"/>
<circle cx="1010.20" cy="1395.00" r="7.87"/>
<circle cx="1017.20" cy="1397.00" r="7.87"/>
<circle cx="1005.20" cy="1406.25" r="7.87"/>
<circle cx="1012.70" cy="1408.25" r="7.87"/>
<circle cx="1001.45" cy="1422.00" r="7.87"/>
</g>
<g fill="none" stroke="#1d699c" stroke-width="4.05">
<circle cx="1058.45" cy="1327.00" r="7.87"/>
<circle cx="1055.70" cy="1368.00" r="7.87"/>
<circle cx="1048.95" cy="1382.50" r="7.87"/>
<circle cx="1068.95" cy="1395.50" r="7.87"/>
<circle cx="1062.70" cy="1396.25" r="7.87"/>
<circle cx="1048.95" cy="1403.75" r="7.87"/>
<circle cx="1055.20" cy="1412.50" r="7.87"/>
<circle cx="1058.45" cy="1441.25" r="7.87"/>
<circle cx="1058.45" cy="1570.70" r="7.87"/>
</g>
<g fill="none" stroke="#000000" stroke-width="4.05">
<circle cx="1143.95" cy="1345.00" r="7.87"/>
<circle cx="1143.95" cy="1365.00" r="7.87"/>
<circle cx="1143.95" cy="1388.00" r="7.87"/>
<circle cx="1143.95" cy="1523.00" r="7.87"/>
<circle cx="1143.95" cy="1548.00" r="7.87"/>
<circle cx="1135.20" cy="1570.70" r="7.87"/>
<circle cx="1141.45" cy="1570.70" r="7.87"/>
<circle cx="1147.70" cy="1570.70" r="7.87"/>
<circle cx="1153.95" cy="1570.70" r="7.87"/>
</g>
<g fill="none" stroke="#1d699c" stroke-width="4.05">
<circle cx="1195.20" cy="1202.00" r="7.87"/>
<circle cx="1195.20" cy="1344.25" r="7.87"/>
<circle cx="1185.70" cy="1362.50" r="7.87"/>
<circle cx="1205.20" cy="1363.00" r="7.87"/>
<circle cx="1195.20" cy="1380.00" r="7.87"/>
<circle cx="1205.20" cy="1423.75" r="7.87"/>
<circle cx="1185.70" cy="1429.25" r="7.87"/>
<circle cx="1195.20" cy="1487.00" r="7.87"/>
<circle cx="1195.20" cy="1570.70" r="7.87"/>
</g>
</g>
<text transform="translate(927.80,909.30) scale(0.9025,1)" font-size="42.9" text-anchor="start" font-weight="bold" fill="#262626" stroke="#262626" stroke-width="0.3">TGF<tspan font-family="'Liberation Serif',serif" font-weight="normal" font-size="42" stroke-width="0.15">β</tspan><tspan dx="1.5">2</tspan></text>
<text transform="translate(748.50,1356.00) rotate(-90) scale(0.9450,1)" font-size="34" text-anchor="middle" font-weight="bold" fill="#000000" stroke="#000000" stroke-width="0.25">Cytokines (pg mL<tspan font-size="26.2" dy="-10.9">-1</tspan><tspan dy="10.9">)</tspan></text>
<line x1="1134.73" y1="1141.50" x2="1190.88" y2="1141.50" stroke="#080808" stroke-width="2.05" stroke-linecap="round"/>
<text transform="translate(1162.85,1121.80) scale(0.9150,1)" font-size="35.0" text-anchor="middle" font-weight="normal" fill="#000000" stroke="#000000" stroke-width="0.35">0.0737</text>
<text transform="translate(896.25,1621.80) scale(0.9280,1)" font-size="32.1" text-anchor="middle" font-weight="bold" fill="#000000" stroke="#000000" stroke-width="0.5">0</text>
<text transform="translate(1032.50,1621.80) scale(0.9280,1)" font-size="32.1" text-anchor="middle" font-weight="bold" fill="#000000" stroke="#000000" stroke-width="0.5">6</text>
<text transform="translate(1169.25,1621.80) scale(0.9280,1)" font-size="32.1" text-anchor="middle" font-weight="bold" fill="#000000" stroke="#000000" stroke-width="0.5">24</text>
<g id="b3">
<path d="M1653.35 1570.95V1472.90H1681.95V1570.95" fill="#9b9b9b" stroke="#000000" stroke-width="5.8" stroke-linejoin="miter"/>
<path d="M1704.55 1570.95V1462.90H1733.15V1570.95" fill="#8fb2ca" stroke="#052d3f" stroke-width="5.8" stroke-linejoin="miter"/>
<path d="M1790.05 1570.95V1376.65H1818.65V1570.95" fill="#9b9b9b" stroke="#000000" stroke-width="5.8" stroke-linejoin="miter"/>
<path d="M1841.25 1570.95V1408.90H1869.85V1570.95" fill="#8fb2ca" stroke="#052d3f" stroke-width="5.8" stroke-linejoin="miter"/>
<line x1="1667.65" y1="1454.50" x2="1667.65" y2="1484.00" stroke="#000000" stroke-width="2.2" stroke-linecap="butt"/>
<line x1="1658.35" y1="1454.50" x2="1676.95" y2="1454.50" stroke="#000000" stroke-width="2.2" stroke-linecap="butt"/>
<line x1="1658.35" y1="1484.00" x2="1676.95" y2="1484.00" stroke="#000000" stroke-width="2.2" stroke-linecap="butt"/>
<line x1="1718.85" y1="1423.00" x2="1718.85" y2="1497.00" stroke="#1d699c" stroke-width="2.2" stroke-linecap="butt"/>
<line x1="1709.55" y1="1423.00" x2="1728.15" y2="1423.00" stroke="#1d699c" stroke-width="2.2" stroke-linecap="butt"/>
<line x1="1709.55" y1="1497.00" x2="1728.15" y2="1497.00" stroke="#1d699c" stroke-width="2.2" stroke-linecap="butt"/>
<line x1="1804.35" y1="1339.75" x2="1804.35" y2="1407.50" stroke="#000000" stroke-width="2.2" stroke-linecap="butt"/>
<line x1="1795.05" y1="1339.75" x2="1813.65" y2="1339.75" stroke="#000000" stroke-width="2.2" stroke-linecap="butt"/>
<line x1="1795.05" y1="1407.50" x2="1813.65" y2="1407.50" stroke="#000000" stroke-width="2.2" stroke-linecap="butt"/>
<line x1="1855.55" y1="1362.25" x2="1855.55" y2="1449.50" stroke="#1d699c" stroke-width="2.2" stroke-linecap="butt"/>
<line x1="1846.25" y1="1362.25" x2="1864.85" y2="1362.25" stroke="#1d699c" stroke-width="2.2" stroke-linecap="butt"/>
<line x1="1846.25" y1="1449.50" x2="1864.85" y2="1449.50" stroke="#1d699c" stroke-width="2.2" stroke-linecap="butt"/>
<line x1="1496.90" y1="1169.60" x2="1496.90" y2="1572.80" stroke="#000000" stroke-width="3.7" stroke-linecap="butt"/>
<line x1="1480.30" y1="1570.95" x2="1496.90" y2="1570.95" stroke="#000000" stroke-width="3.7" stroke-linecap="butt"/>
<text transform="translate(1474.20,1582.15) scale(0.9280,1)" font-size="32.1" text-anchor="end" font-weight="bold" fill="#000000" stroke="#000000" stroke-width="0.5">0</text>
<line x1="1480.30" y1="1471.08" x2="1496.90" y2="1471.08" stroke="#000000" stroke-width="3.7" stroke-linecap="butt"/>
<text transform="translate(1474.20,1482.28) scale(0.9280,1)" font-size="32.1" text-anchor="end" font-weight="bold" fill="#000000" stroke="#000000" stroke-width="0.5">5</text>
<line x1="1480.30" y1="1371.20" x2="1496.90" y2="1371.20" stroke="#000000" stroke-width="3.7" stroke-linecap="butt"/>
<text transform="translate(1474.20,1382.40) scale(0.9280,1)" font-size="32.1" text-anchor="end" font-weight="bold" fill="#000000" stroke="#000000" stroke-width="0.5">10</text>
<line x1="1480.30" y1="1271.33" x2="1496.90" y2="1271.33" stroke="#000000" stroke-width="3.7" stroke-linecap="butt"/>
<text transform="translate(1474.20,1282.53) scale(0.9280,1)" font-size="32.1" text-anchor="end" font-weight="bold" fill="#000000" stroke="#000000" stroke-width="0.5">15</text>
<line x1="1480.30" y1="1171.45" x2="1496.90" y2="1171.45" stroke="#000000" stroke-width="3.7" stroke-linecap="butt"/>
<text transform="translate(1474.20,1182.65) scale(0.9280,1)" font-size="32.1" text-anchor="end" font-weight="bold" fill="#000000" stroke="#000000" stroke-width="0.5">20</text>
<line x1="1480.30" y1="1570.95" x2="1891.00" y2="1570.95" stroke="#000000" stroke-width="3.7" stroke-linecap="butt"/>
<line x1="1556.90" y1="1570.95" x2="1556.90" y2="1587.95" stroke="#000000" stroke-width="4.0" stroke-linecap="butt"/>
<line x1="1693.40" y1="1570.95" x2="1693.40" y2="1587.95" stroke="#000000" stroke-width="4.0" stroke-linecap="butt"/>
<line x1="1829.70" y1="1570.95" x2="1829.70" y2="1587.95" stroke="#000000" stroke-width="4.0" stroke-linecap="butt"/>
<g fill="none" stroke="#000000" stroke-width="4.05">
<circle cx="1521.50" cy="1570.95" r="7.87"/>
<circle cx="1524.60" cy="1570.95" r="7.87"/>
<circle cx="1527.80" cy="1570.95" r="7.87"/>
<circle cx="1531.10" cy="1570.95" r="7.87"/>
<circle cx="1534.30" cy="1570.95" r="7.87"/>
<circle cx="1537.50" cy="1570.95" r="7.87"/>
<circle cx="1540.70" cy="1570.95" r="7.87"/>
</g>
<g fill="none" stroke="#1d699c" stroke-width="4.05">
<circle cx="1581.85" cy="1547.50" r="7.87"/>
<circle cx="1574.35" cy="1562.50" r="7.87"/>
<circle cx="1572.80" cy="1570.95" r="7.87"/>
<circle cx="1575.90" cy="1570.95" r="7.87"/>
<circle cx="1579.10" cy="1570.95" r="7.87"/>
<circle cx="1582.20" cy="1570.95" r="7.87"/>
<circle cx="1585.30" cy="1570.95" r="7.87"/>
<circle cx="1588.40" cy="1570.95" r="7.87"/>
<circle cx="1591.50" cy="1570.95" r="7.87"/>
</g>
<g fill="none" stroke="#000000" stroke-width="4.05">
<circle cx="1667.60" cy="1370.75" r="7.87"/>
<circle cx="1662.60" cy="1445.50" r="7.87"/>
<circle cx="1671.85" cy="1455.00" r="7.87"/>
<circle cx="1676.85" cy="1471.25" r="7.87"/>
<circle cx="1658.10" cy="1480.00" r="7.87"/>
<circle cx="1666.85" cy="1477.50" r="7.87"/>
<circle cx="1676.85" cy="1491.25" r="7.87"/>
<circle cx="1667.60" cy="1503.75" r="7.87"/>
<circle cx="1667.60" cy="1536.75" r="7.87"/>
</g>
<g fill="none" stroke="#1d699c" stroke-width="4.05">
<circle cx="1719.10" cy="1230.00" r="7.87"/>
<circle cx="1719.10" cy="1337.50" r="7.87"/>
<circle cx="1709.35" cy="1440.00" r="7.87"/>
<circle cx="1719.10" cy="1451.25" r="7.87"/>
<circle cx="1719.10" cy="1518.75" r="7.87"/>
<circle cx="1709.35" cy="1533.75" r="7.87"/>
<circle cx="1719.10" cy="1535.00" r="7.87"/>
<circle cx="1728.10" cy="1533.75" r="7.87"/>
<circle cx="1719.10" cy="1558.75" r="7.87"/>
</g>
<g fill="none" stroke="#000000" stroke-width="4.05">
<circle cx="1795.10" cy="1273.00" r="7.87"/>
<circle cx="1813.10" cy="1270.50" r="7.87"/>
<circle cx="1795.10" cy="1297.50" r="7.87"/>
<circle cx="1813.10" cy="1299.50" r="7.87"/>
<circle cx="1795.10" cy="1377.50" r="7.87"/>
<circle cx="1813.10" cy="1389.50" r="7.87"/>
<circle cx="1804.35" cy="1420.50" r="7.87"/>
<circle cx="1804.35" cy="1468.75" r="7.87"/>
<circle cx="1804.35" cy="1570.95" r="7.87"/>
</g>
<g fill="none" stroke="#1d699c" stroke-width="4.05">
<circle cx="1855.10" cy="1196.25" r="7.87"/>
<circle cx="1855.10" cy="1266.25" r="7.87"/>
<circle cx="1855.10" cy="1294.25" r="7.87"/>
<circle cx="1855.10" cy="1395.00" r="7.87"/>
<circle cx="1855.10" cy="1431.75" r="7.87"/>
<circle cx="1855.10" cy="1450.00" r="7.87"/>
<circle cx="1855.10" cy="1489.25" r="7.87"/>
<circle cx="1864.85" cy="1562.00" r="7.87"/>
<circle cx="1846.10" cy="1570.95" r="7.87"/>
</g>
</g>
<text transform="translate(1615.20,909.30) scale(0.9025,1)" font-size="42.9" text-anchor="start" font-weight="bold" fill="#262626" stroke="#262626" stroke-width="0.3">TGF<tspan font-family="'Liberation Serif',serif" font-weight="normal" font-size="42" stroke-width="0.15">β</tspan><tspan dx="1.5">3</tspan></text>
<text transform="translate(1427.80,1356.00) rotate(-90) scale(0.9450,1)" font-size="34" text-anchor="middle" font-weight="bold" fill="#000000" stroke="#000000" stroke-width="0.25">Cytokines (pg mL<tspan font-size="26.2" dy="-10.9">-1</tspan><tspan dy="10.9">)</tspan></text>
<line x1="1603.53" y1="971.55" x2="1858.97" y2="971.55" stroke="#080808" stroke-width="2.05" stroke-linecap="round"/>
<text transform="translate(1731.70,966.95) scale(0.9300,1)" font-size="46.1" text-anchor="middle" font-weight="bold" fill="#000000" font-family="'DejaVu Sans',sans-serif" stroke="#000" stroke-width="1.10" stroke-linejoin="miter" letter-spacing="1.45">**</text>
<line x1="1541.03" y1="1020.80" x2="1796.47" y2="1020.80" stroke="#080808" stroke-width="2.05" stroke-linecap="round"/>
<text transform="translate(1669.45,1016.20) scale(0.9300,1)" font-size="46.1" text-anchor="middle" font-weight="bold" fill="#000000" font-family="'DejaVu Sans',sans-serif" stroke="#000" stroke-width="1.10" stroke-linejoin="miter" letter-spacing="1.45">***</text>
<line x1="1541.03" y1="1096.30" x2="1669.97" y2="1096.30" stroke="#080808" stroke-width="2.05" stroke-linecap="round"/>
<text transform="translate(1606.70,1091.70) scale(0.9300,1)" font-size="46.1" text-anchor="middle" font-weight="bold" fill="#000000" font-family="'DejaVu Sans',sans-serif" stroke="#000" stroke-width="1.10" stroke-linejoin="miter" letter-spacing="1.45">****</text>
<line x1="1590.28" y1="1145.30" x2="1719.47" y2="1145.30" stroke="#080808" stroke-width="2.05" stroke-linecap="round"/>
<text transform="translate(1655.70,1140.70) scale(0.9300,1)" font-size="46.1" text-anchor="middle" font-weight="bold" fill="#000000" font-family="'DejaVu Sans',sans-serif" stroke="#000" stroke-width="1.10" stroke-linejoin="miter" letter-spacing="1.45">****</text>
<line x1="1727.03" y1="1152.55" x2="1858.97" y2="1152.55" stroke="#080808" stroke-width="2.05" stroke-linecap="round"/>
<text transform="translate(1793.95,1147.95) scale(0.9300,1)" font-size="46.1" text-anchor="middle" font-weight="bold" fill="#000000" font-family="'DejaVu Sans',sans-serif" stroke="#000" stroke-width="1.10" stroke-linejoin="miter" letter-spacing="1.45">**</text>
<line x1="1666.03" y1="1210.30" x2="1796.47" y2="1210.30" stroke="#080808" stroke-width="2.05" stroke-linecap="round"/>
<text transform="translate(1732.45,1205.70) scale(0.9300,1)" font-size="46.1" text-anchor="middle" font-weight="bold" fill="#000000" font-family="'DejaVu Sans',sans-serif" stroke="#000" stroke-width="1.10" stroke-linejoin="miter" letter-spacing="1.45">*</text>
<text transform="translate(1556.90,1621.80) scale(0.9280,1)" font-size="32.1" text-anchor="middle" font-weight="bold" fill="#000000" stroke="#000000" stroke-width="0.5">0</text>
<text transform="translate(1693.40,1621.80) scale(0.9280,1)" font-size="32.1" text-anchor="middle" font-weight="bold" fill="#000000" stroke="#000000" stroke-width="0.5">6</text>
<text transform="translate(1829.70,1621.80) scale(0.9280,1)" font-size="32.1" text-anchor="middle" font-weight="bold" fill="#000000" stroke="#000000" stroke-width="0.5">24</text>
<text transform="translate(1004.70,1696.30)" font-size="38.5" text-anchor="middle" font-weight="normal" fill="#2b2b2b" stroke="#2b2b2b" stroke-width="0.25">Hours of stimulation</text>
</svg>
</body></html>
